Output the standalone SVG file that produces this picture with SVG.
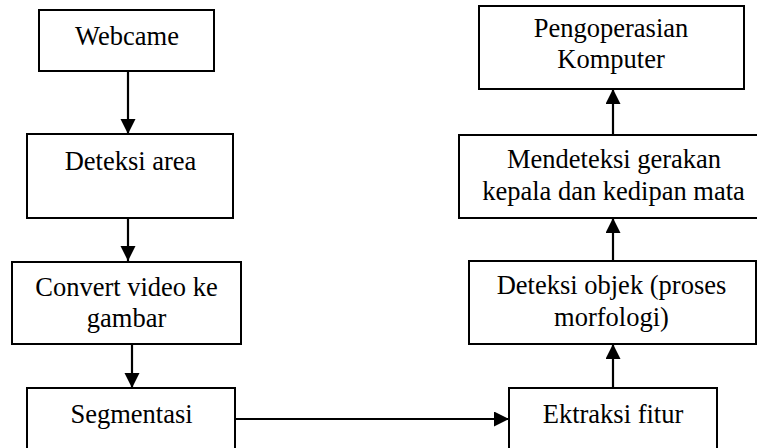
<svg xmlns="http://www.w3.org/2000/svg" width="757" height="448" viewBox="0 0 757 448">
<style>
.box{fill:#fff;stroke:#000;stroke-width:2}
.t{font-family:"Liberation Serif","Times New Roman",serif;font-size:26.5px;fill:#000;text-anchor:middle}
.c{stroke:#000;stroke-width:2.2;fill:none;marker-end:url(#ah)}
</style>
<defs>
<marker id="ah" markerUnits="userSpaceOnUse" markerWidth="16" markerHeight="16" refX="15" refY="7.5" orient="auto">
<path d="M0,0 L15,7.5 L0,15 Z" fill="#000"/>
</marker>
</defs>
<rect width="757" height="448" fill="#fff"/>
<g id="connectors">
<line class="c" x1="128" y1="71" x2="128" y2="134"/>
<line class="c" x1="128" y1="218" x2="128" y2="261"/>
<line class="c" x1="132" y1="344" x2="132" y2="388"/>
<line class="c" x1="235" y1="419" x2="509" y2="419"/>
<line class="c" x1="613" y1="388" x2="613" y2="344"/>
<line class="c" x1="613" y1="261" x2="613" y2="218"/>
<line class="c" x1="613" y1="135" x2="613" y2="89"/>
</g>
<g id="webcame">
<rect class="box" x="39" y="10" width="175" height="61"/>
<text class="t" x="127" y="45">Webcame</text>
</g>
<g id="deteksi-area">
<rect class="box" x="27" y="134" width="206" height="84"/>
<text class="t" x="130.5" y="170">Deteksi area</text>
</g>
<g id="convert">
<rect class="box" x="12" y="262" width="229" height="82"/>
<text class="t" x="126.5" y="296">Convert video ke</text>
<text class="t" x="126.5" y="327">gambar</text>
</g>
<g id="segmentasi">
<rect class="box" x="27" y="388" width="208" height="70"/>
<text class="t" x="131.5" y="423">Segmentasi</text>
</g>
<g id="ektraksi">
<rect class="box" x="509" y="388" width="208" height="70"/>
<text class="t" x="613" y="423">Ektraksi fitur</text>
</g>
<g id="deteksi-objek">
<rect class="box" x="469" y="261" width="287" height="83"/>
<text class="t" x="611.5" y="294">Deteksi objek (proses</text>
<text class="t" x="611.5" y="326">morfologi)</text>
</g>
<g id="mendeteksi">
<rect class="box" x="459" y="135" width="300" height="83"/>
<text class="t" x="614" y="168">Mendeteksi gerakan</text>
<text class="t" x="613.5" y="200">kepala dan kedipan mata</text>
</g>
<g id="pengoperasian">
<rect class="box" x="479" y="6" width="265" height="83"/>
<text class="t" x="611" y="37">Pengoperasian</text>
<text class="t" x="611" y="68">Komputer</text>
</g>
</svg>
